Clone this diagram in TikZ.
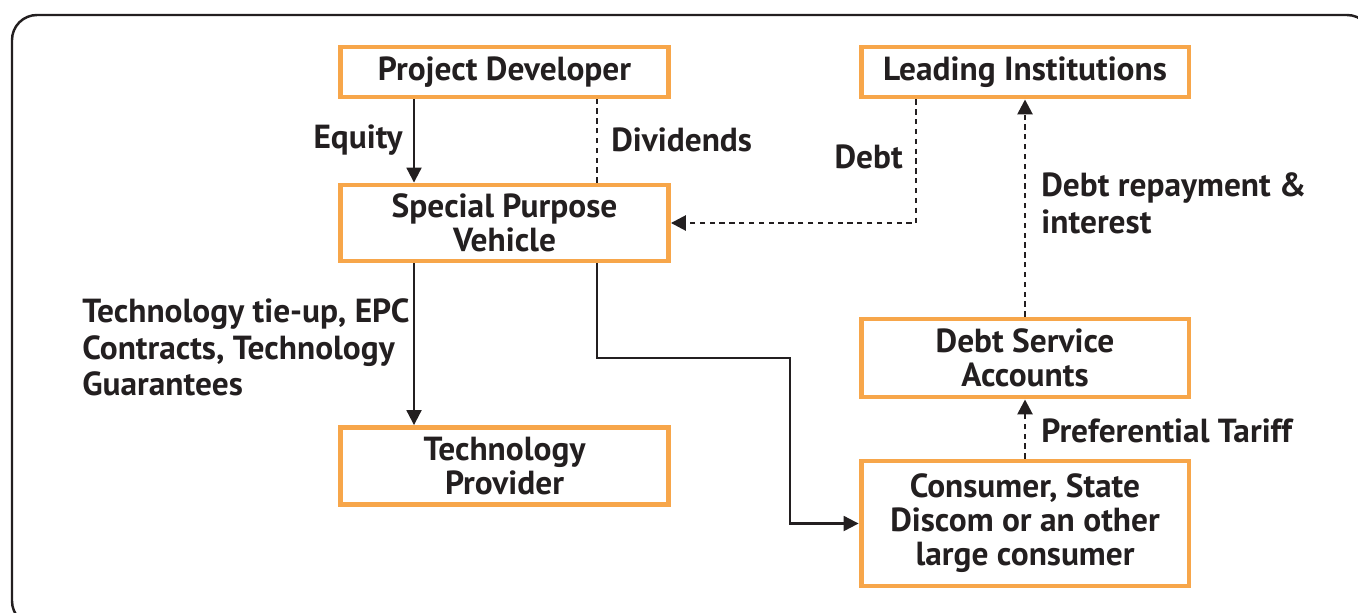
\documentclass[tikz,border=0pt]{standalone}
\usepackage{fontspec}
\setmainfont{PT Sans}
\usetikzlibrary{arrows.meta}
\definecolor{boxorange}{HTML}{F7A64A}
\definecolor{inkgray}{HTML}{231F20}
\tikzset{
  txt/.style={font=\bfseries\fontsize{19}{19.4}\selectfont, text=inkgray},
  block/.style={txt, draw=boxorange, line width=2.8pt, align=center,
    inner sep=0pt, minimum width=6.56cm},
  lbl/.style={txt, font=\bfseries\fontsize{19}{20.8}\selectfont, align=left, inner sep=0pt},
  flow/.style={draw=inkgray, line width=1.2pt, -{Triangle[length=8.5pt,width=8.5pt]}},
  dotflow/.style={flow, line width=1.5pt, dash pattern=on 3pt off 2.6pt},
}
\begin{document}
\begin{tikzpicture}[x=0.02cm, y=-0.02cm]
      \useasboundingbox (0,0) rectangle (1358,612);
      \clip (0,0) rectangle (1358,612);
      \draw[inkgray, line width=1.4pt, rounded corners=0.5cm] (12,15) rectangle (1372,626);
      \draw
        (504.5,72) node[block, minimum height=1cm] (dev){Project Developer}
        (504.5,223) node[block, minimum height=1.52cm] (spv){Special Purpose\\Vehicle}
        (504.5,466) node[block, minimum height=1.54cm] (tech){Technology\\Provider}
        (1025,72) node[block, minimum height=1cm] (lead){Leading Institutions}
        (1025,358) node[block, minimum height=1.56cm] (dsa){Debt Service\\Accounts}
        (1025,523.5) node[block, minimum height=2.5cm] (cons){Consumer, State\\Discom or an other\\large consumer};
      \draw
        (403,140) node[lbl, anchor=east] (equity){Equity}
        (611,140) node[lbl, anchor=west] (dividends){Dividends}
        (903,157) node[lbl, anchor=east] (debt){Debt}
        (1041,203.5) node[lbl, anchor=west] (repay){Debt repayment \&\\interest}
        (82,347.5) node[lbl, anchor=west] (contracts){Technology tie-up, EPC\\Contracts, Technology\\Guarantees}
        (1041,431) node[lbl, anchor=west] (tariff){Preferential Tariff};
      \coordinate (colA) at (414,0);
      \coordinate (colB) at (597,0);
      \coordinate (colC) at (916,0);
      \coordinate (bend) at (790,358);
      \begin{scope}
        \draw[flow] (dev.south -| colA) -- (spv.north -| colA);
        \draw[dotflow, -] (spv.north -| colB) -- (dev.south -| colB);
        \draw[dotflow] (lead.south -| colC) |- (spv.east);
        \draw[dotflow] (dsa.north) -- (lead.south);
        \draw[dotflow] (cons.north) -- (dsa.south);
        \draw[flow] (spv.south -| colA) -- (tech.north -| colA);
        \draw[flow] (spv.south -| colB) |- (bend) |- (cons.west);
      \end{scope}
    \end{tikzpicture}
\end{document}
